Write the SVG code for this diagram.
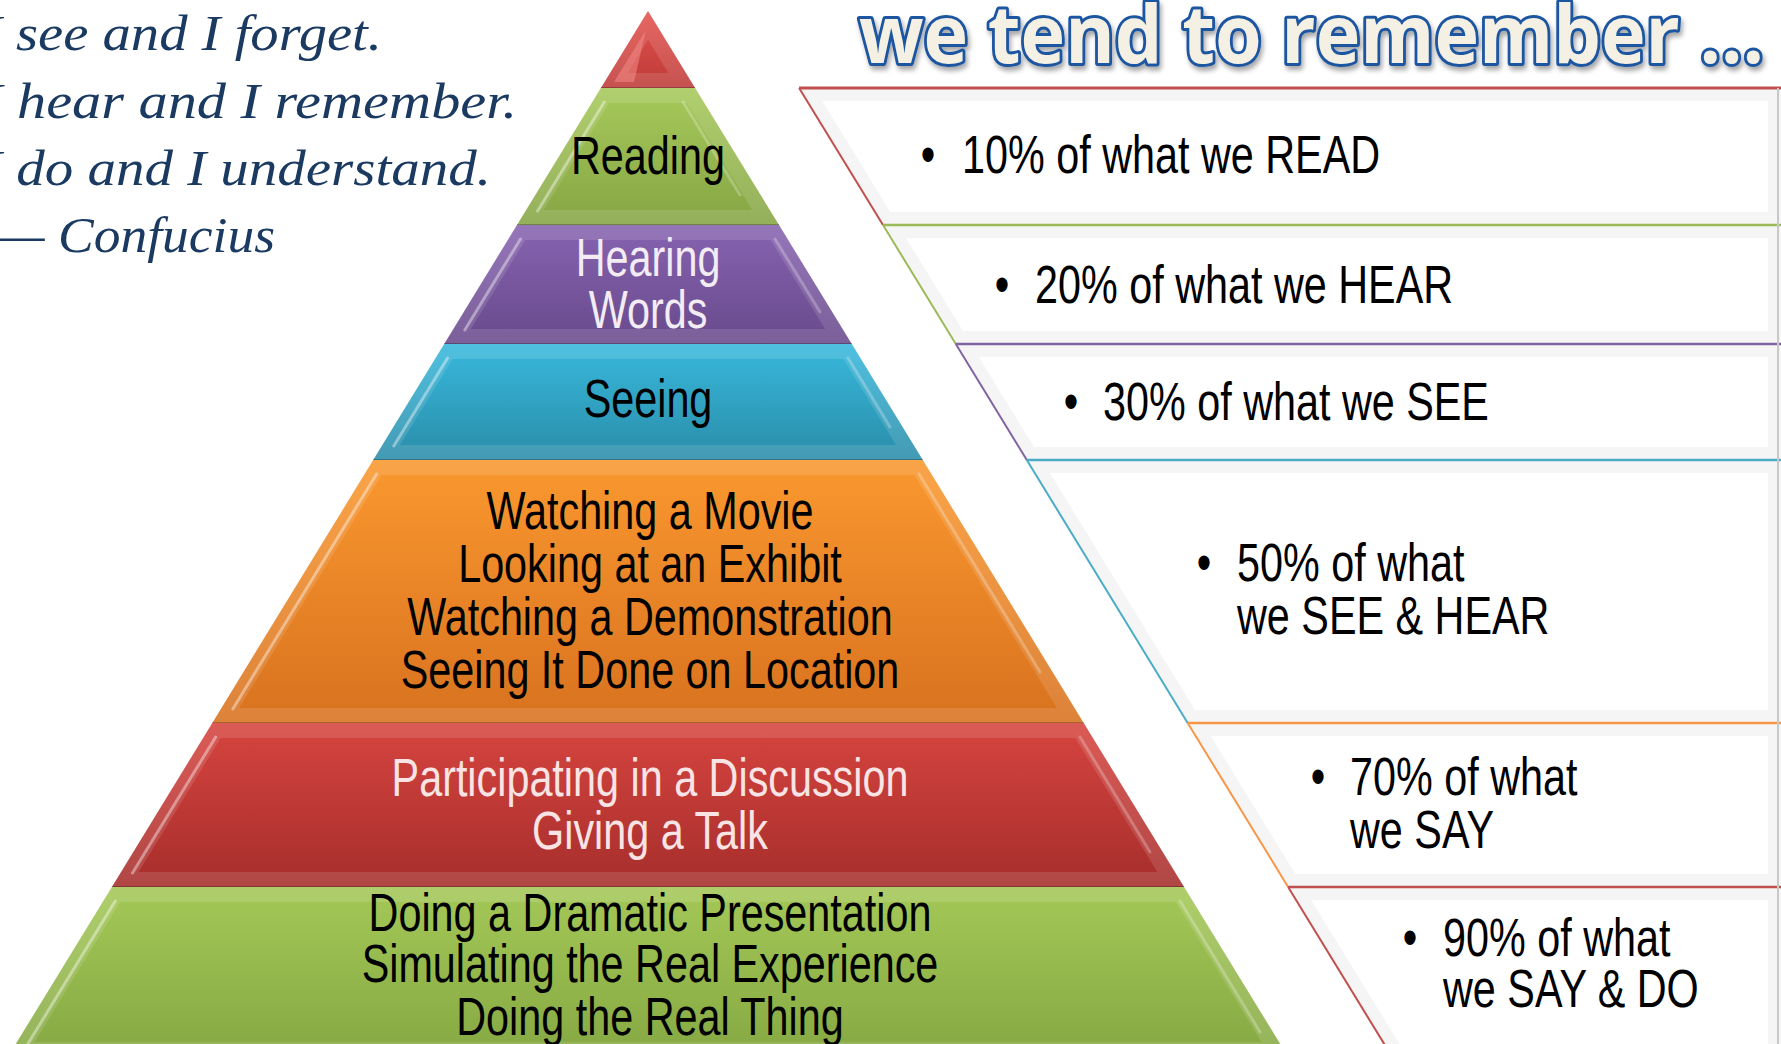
<svg xmlns="http://www.w3.org/2000/svg" xmlns:xlink="http://www.w3.org/1999/xlink" width="1781" height="1044" viewBox="0 0 1781 1044">
<style>
.t{font-family:"Liberation Sans",Arial,sans-serif;font-size:53px;fill:#000}
.w{fill:#F3ECF4}
.p{fill:#F8E4E4}
.q{font-family:"Liberation Serif","Times New Roman",serif;font-style:italic;font-size:50px;fill:#1B3A62}
.hl{stroke:#fff;stroke-opacity:0.4;stroke-width:3;stroke-linecap:round}
.hr{stroke:#fff;stroke-opacity:0.25;stroke-width:3;stroke-linecap:round}
.bev{fill:none;stroke:#fff;stroke-opacity:0.12;stroke-width:30}
.seam{stroke:#000;stroke-opacity:0.25;stroke-width:2}
.box{fill:#fff}
.boxbev{fill:none;stroke:#000;stroke-opacity:0.04;stroke-width:26}
</style>
<defs>
<linearGradient id="gRed0" x1="0" y1="0" x2="0" y2="1"><stop offset="0" stop-color="#E3524E"/><stop offset="1" stop-color="#BE3B38"/></linearGradient>
<linearGradient id="gGreen" x1="0" y1="0" x2="0" y2="1"><stop offset="0" stop-color="#A6C95A"/><stop offset="1" stop-color="#86A544"/></linearGradient>
<linearGradient id="gPurple" x1="0" y1="0" x2="0" y2="1"><stop offset="0" stop-color="#8763B0"/><stop offset="1" stop-color="#684A8C"/></linearGradient>
<linearGradient id="gCyan" x1="0" y1="0" x2="0" y2="1"><stop offset="0" stop-color="#38B8DC"/><stop offset="1" stop-color="#2A8DA9"/></linearGradient>
<linearGradient id="gOrange" x1="0" y1="0" x2="0" y2="1"><stop offset="0" stop-color="#FA982F"/><stop offset="1" stop-color="#D8721F"/></linearGradient>
<linearGradient id="gRed" x1="0" y1="0" x2="0" y2="1"><stop offset="0" stop-color="#D6443F"/><stop offset="1" stop-color="#A62E2C"/></linearGradient>
<linearGradient id="gGreen2" x1="0" y1="0" x2="0" y2="1"><stop offset="0" stop-color="#A4C857"/><stop offset="1" stop-color="#86A843"/></linearGradient>
<filter id="sh" x="-5%" y="-30%" width="110%" height="170%">
<feGaussianBlur in="SourceAlpha" stdDeviation="2.5"/><feOffset dx="2" dy="4"/>
<feComponentTransfer><feFuncA type="linear" slope="0.35"/></feComponentTransfer>
<feMerge><feMergeNode/><feMergeNode in="SourceGraphic"/></feMerge>
</filter>
<polygon id="L0" points="648,11 695.1,88 600.9,88"/>
<polygon id="L1" points="600.9,88 695.1,88 779,225 517,225"/>
<polygon id="L2" points="517,225 779,225 851.8,344 444.2,344"/>
<polygon id="L3" points="444.2,344 851.8,344 922.8,460 373.2,460"/>
<polygon id="L4" points="373.2,460 922.8,460 1083.7,723 212.3,723"/>
<polygon id="L5" points="212.3,723 1083.7,723 1184.1,887 111.9,887"/>
<polygon id="L6" points="111.9,887 1184.1,887 1288.2,1057 7.8,1057"/>
<clipPath id="c0"><use xlink:href="#L0"/></clipPath>
<clipPath id="c1"><use xlink:href="#L1"/></clipPath>
<clipPath id="c2"><use xlink:href="#L2"/></clipPath>
<clipPath id="c3"><use xlink:href="#L3"/></clipPath>
<clipPath id="c4"><use xlink:href="#L4"/></clipPath>
<clipPath id="c5"><use xlink:href="#L5"/></clipPath>
<clipPath id="c6"><use xlink:href="#L6"/></clipPath>
<polygon id="B1" points="799.1,88 1781,88 1781,225 883,225"/>
<polygon id="B2" points="883,225 1781,225 1781,344 955.8,344"/>
<polygon id="B3" points="955.8,344 1781,344 1781,460 1026.8,460"/>
<polygon id="B4" points="1026.8,460 1781,460 1781,723 1187.7,723"/>
<polygon id="B5" points="1187.7,723 1781,723 1781,887 1288.1,887"/>
<polygon id="B6" points="1288.1,887 1781,887 1781,1057 1392.2,1057"/>
<clipPath id="k1"><use xlink:href="#B1"/></clipPath>
<clipPath id="k2"><use xlink:href="#B2"/></clipPath>
<clipPath id="k3"><use xlink:href="#B3"/></clipPath>
<clipPath id="k4"><use xlink:href="#B4"/></clipPath>
<clipPath id="k5"><use xlink:href="#B5"/></clipPath>
<clipPath id="k6"><use xlink:href="#B6"/></clipPath>
</defs>
<rect width="1781" height="1044" fill="#fff"/>

<g id="quote">
<text class="q" x="-17" y="50" textLength="399" lengthAdjust="spacingAndGlyphs">I see and I forget.</text>
<text class="q" x="-17" y="118" textLength="534" lengthAdjust="spacingAndGlyphs">I hear and I remember.</text>
<text class="q" x="-17" y="185" textLength="508" lengthAdjust="spacingAndGlyphs">I do and I understand.</text>
<text class="q" x="-3" y="252" textLength="278" lengthAdjust="spacingAndGlyphs">— Confucius</text>
</g>

<g id="title" filter="url(#sh)">
<text x="859" y="63" font-family="'Open Sans','Liberation Sans',sans-serif" font-weight="bold" font-size="80" textLength="905" lengthAdjust="spacingAndGlyphs" fill="#F4F0E3" stroke="#1E55A0" stroke-width="6" stroke-linejoin="round" paint-order="stroke">we tend to remember ...</text>
</g>

<g id="boxes">
<g id="box-read">
<use xlink:href="#B1" class="box"/><use xlink:href="#B1" class="boxbev" clip-path="url(#k1)"/>
<line x1="799.1" y1="88" x2="1781" y2="88" stroke="#C0504D" stroke-width="3"/>
<line x1="799.1" y1="88" x2="883" y2="225" stroke="#C0504D" stroke-width="2"/>
<text class="t" text-anchor="middle" transform="translate(928,173) scale(0.78,1)">•</text>
<text class="t" transform="translate(962,173) scale(0.78,1)">10% of what we READ</text>
</g>
<g id="box-hear">
<use xlink:href="#B2" class="box"/><use xlink:href="#B2" class="boxbev" clip-path="url(#k2)"/>
<line x1="883" y1="225" x2="1781" y2="225" stroke="#9BBB59" stroke-width="2.5"/>
<line x1="883" y1="225" x2="955.8" y2="344" stroke="#9BBB59" stroke-width="2"/>
<text class="t" text-anchor="middle" transform="translate(1002,303) scale(0.78,1)">•</text>
<text class="t" transform="translate(1035,303) scale(0.78,1)">20% of what we HEAR</text>
</g>
<g id="box-see">
<use xlink:href="#B3" class="box"/><use xlink:href="#B3" class="boxbev" clip-path="url(#k3)"/>
<line x1="955.8" y1="344" x2="1781" y2="344" stroke="#8064A2" stroke-width="2.5"/>
<line x1="955.8" y1="344" x2="1026.8" y2="460" stroke="#8064A2" stroke-width="2"/>
<text class="t" text-anchor="middle" transform="translate(1071,420) scale(0.78,1)">•</text>
<text class="t" transform="translate(1103,420) scale(0.78,1)">30% of what we SEE</text>
</g>
<g id="box-seehear">
<use xlink:href="#B4" class="box"/><use xlink:href="#B4" class="boxbev" clip-path="url(#k4)"/>
<line x1="1026.8" y1="460" x2="1781" y2="460" stroke="#4BACC6" stroke-width="2.5"/>
<line x1="1026.8" y1="460" x2="1187.7" y2="723" stroke="#4BACC6" stroke-width="2"/>
<text class="t" text-anchor="middle" transform="translate(1204,581) scale(0.78,1)">•</text>
<text class="t" transform="translate(1237,581) scale(0.78,1)">50% of what</text>
<text class="t" transform="translate(1237,634) scale(0.78,1)">we SEE &amp; HEAR</text>
</g>
<g id="box-say">
<use xlink:href="#B5" class="box"/><use xlink:href="#B5" class="boxbev" clip-path="url(#k5)"/>
<line x1="1187.7" y1="723" x2="1781" y2="723" stroke="#F79646" stroke-width="2.5"/>
<line x1="1187.7" y1="723" x2="1288.1" y2="887" stroke="#F79646" stroke-width="2"/>
<text class="t" text-anchor="middle" transform="translate(1318,795) scale(0.78,1)">•</text>
<text class="t" transform="translate(1350,795) scale(0.78,1)">70% of what</text>
<text class="t" transform="translate(1350,848) scale(0.78,1)">we SAY</text>
</g>
<g id="box-saydo">
<use xlink:href="#B6" class="box"/><use xlink:href="#B6" class="boxbev" clip-path="url(#k6)"/>
<line x1="1288.1" y1="887" x2="1781" y2="887" stroke="#C0504D" stroke-width="2.5"/>
<line x1="1288.1" y1="887" x2="1392.2" y2="1057" stroke="#C0504D" stroke-width="2"/>
<text class="t" text-anchor="middle" transform="translate(1410,956) scale(0.78,1)">•</text>
<text class="t" transform="translate(1443,956) scale(0.78,1)">90% of what</text>
<text class="t" transform="translate(1443,1007) scale(0.78,1)">we SAY &amp; DO</text>
</g>
<line x1="1778" y1="88" x2="1778" y2="1044" stroke="#C8C8C8" stroke-width="2"/>
</g>

<g id="pyramid">
<g id="layer-top">
<use xlink:href="#L0" fill="url(#gRed0)"/>
<use xlink:href="#L0" class="bev" clip-path="url(#c0)"/>
<polygon points="646,30 614,82 634,82" fill="#F28A86" fill-opacity="0.55"/>
<line class="seam" x1="600.9" y1="88" x2="695.1" y2="88"/>
</g>
<g id="layer-reading">
<use xlink:href="#L1" fill="url(#gGreen)"/>
<use xlink:href="#L1" class="bev" clip-path="url(#c1)"/>
<line class="hl" x1="537.6" y1="211" x2="604.3" y2="102"/>
<line class="hr" x1="683" y1="102" x2="740" y2="195"/>
<line class="seam" x1="517" y1="225" x2="779" y2="225"/>
<text class="t" text-anchor="middle" transform="translate(648,174) scale(0.78,1)">Reading</text>
</g>
<g id="layer-hearing">
<use xlink:href="#L2" fill="url(#gPurple)"/>
<use xlink:href="#L2" class="bev" clip-path="url(#c2)"/>
<line class="hl" x1="464.8" y1="330" x2="520.5" y2="239"/>
<line class="hr" x1="775" y1="239" x2="820" y2="312"/>
<line class="seam" x1="444.2" y1="344" x2="851.8" y2="344"/>
<text class="t w" text-anchor="middle" transform="translate(648,276) scale(0.78,1)">Hearing</text>
<text class="t w" text-anchor="middle" transform="translate(648,328) scale(0.78,1)">Words</text>
</g>
<g id="layer-seeing">
<use xlink:href="#L3" fill="url(#gCyan)"/>
<use xlink:href="#L3" class="bev" clip-path="url(#c3)"/>
<line class="hl" x1="393.8" y1="446" x2="447.6" y2="358"/>
<line class="hr" x1="848" y1="358" x2="890" y2="427"/>
<line class="seam" x1="373.2" y1="460" x2="922.8" y2="460"/>
<text class="t" text-anchor="middle" transform="translate(648,417) scale(0.78,1)">Seeing</text>
</g>
<g id="layer-orange">
<use xlink:href="#L4" fill="url(#gOrange)"/>
<use xlink:href="#L4" class="bev" clip-path="url(#c4)"/>
<line class="hl" x1="232.8" y1="709" x2="376.6" y2="474"/>
<line class="hr" x1="919" y1="474" x2="1040" y2="672"/>
<line class="seam" x1="212.3" y1="723" x2="1083.7" y2="723"/>
<text class="t" text-anchor="middle" transform="translate(650,529) scale(0.78,1)">Watching a Movie</text>
<text class="t" text-anchor="middle" transform="translate(650,582) scale(0.78,1)">Looking at an Exhibit</text>
<text class="t" text-anchor="middle" transform="translate(650,635) scale(0.78,1)">Watching a Demonstration</text>
<text class="t" text-anchor="middle" transform="translate(650,688) scale(0.78,1)">Seeing It Done on Location</text>
</g>
<g id="layer-red">
<use xlink:href="#L5" fill="url(#gRed)"/>
<use xlink:href="#L5" class="bev" clip-path="url(#c5)"/>
<line class="hl" x1="132.5" y1="873" x2="215.7" y2="737"/>
<line class="hr" x1="1080" y1="737" x2="1150" y2="852"/>
<line class="seam" x1="111.9" y1="887" x2="1184.1" y2="887"/>
<text class="t p" text-anchor="middle" transform="translate(650,796) scale(0.78,1)">Participating in a Discussion</text>
<text class="t p" text-anchor="middle" transform="translate(650,849) scale(0.78,1)">Giving a Talk</text>
</g>
<g id="layer-green">
<use xlink:href="#L6" fill="url(#gGreen2)"/>
<use xlink:href="#L6" class="bev" clip-path="url(#c6)"/>
<line class="hl" x1="27.8" y1="1044" x2="115.3" y2="901"/>
<line class="hr" x1="1180" y1="901" x2="1260" y2="1032"/>
<text class="t" text-anchor="middle" transform="translate(650,931) scale(0.78,1)">Doing a Dramatic Presentation</text>
<text class="t" text-anchor="middle" transform="translate(650,982) scale(0.78,1)">Simulating the Real Experience</text>
<text class="t" text-anchor="middle" transform="translate(650,1035) scale(0.78,1)">Doing the Real Thing</text>
</g>
</g>
</svg>
